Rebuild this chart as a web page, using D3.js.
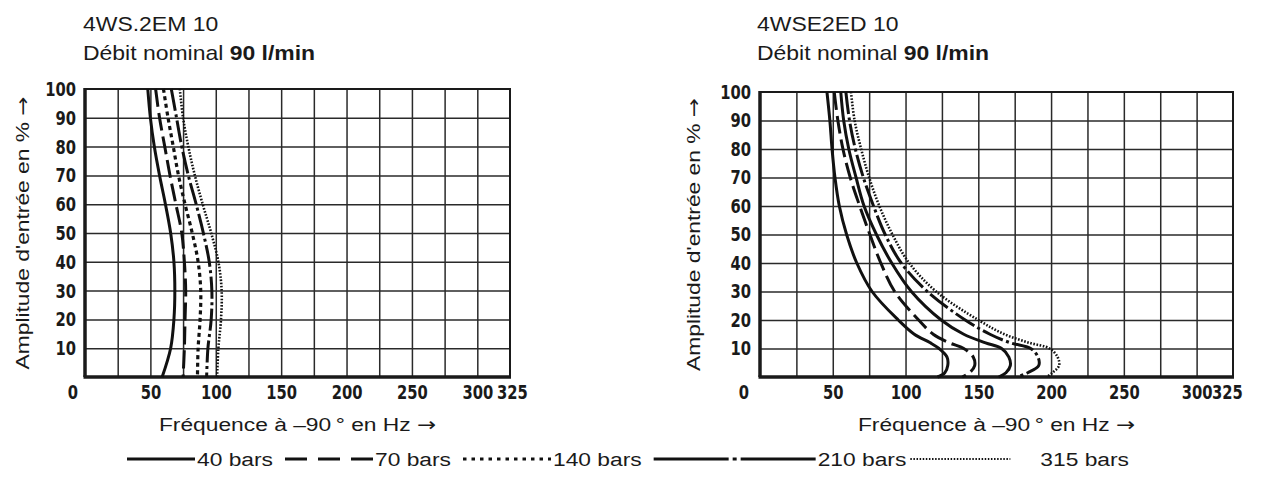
<!DOCTYPE html>
<html>
<head>
<meta charset="utf-8">
<script src="https://cdn.jsdelivr.net/npm/d3@7"></script>
<style>
  body { margin: 0; background: #fff; }
  svg { display: block; }
</style>
</head>
<body>
<script>
// ---- data ----
const seriesNames = ['40 bars', '70 bars', '140 bars', '210 bars', '315 bars']
const xTicks = [50, 100, 150, 200, 250, 300, 325]
const yTicks = [10, 20, 30, 40, 50, 60, 70, 80, 90, 100]

// left chart: 4WS.2EM 10
const ampsLeft = [100, 90, 80, 70, 60, 50, 40, 30, 20, 10, 0]
const left40 = [48, 50, 53, 57, 61.5, 65.5, 68, 68.7, 68, 65.5, 59]
const left70 = [54, 57, 61, 65, 69.5, 74, 76, 77, 76.5, 76, 75]
const left140 = [60, 63.5, 67.5, 71.5, 76.5, 82, 86.5, 88.5, 88, 86.5, 86]
const left210 = [66, 70, 74, 79, 85, 90.5, 95, 97, 96.5, 94, 93]
const left315 = [72.5, 75, 79, 84, 90, 96.5, 102, 104.5, 104, 102, 101]

// right chart: 4WSE2ED 10
const ampsRight = [100, 90, 80, 70, 60, 50, 40, 30, 20, 15, 12, 10, 7, 4, 1.5, 0]
const right40 = [46, 48, 49.5, 51.5, 54.5, 59.5, 66.5, 77, 95, 106, 117, 123, 128.5, 129, 127, 122]
const right70 = [51, 53.5, 57, 62, 68.5, 75.5, 83, 92.5, 109, 119, 130, 140, 146.5, 147.5, 144, 139]
const right140 = [55.5, 57.5, 61, 66, 71.5, 80, 90.5, 104, 124.5, 140, 155, 166, 171, 172, 169, 164]
const right210 = [59, 61.5, 65.5, 71, 78, 86, 97, 115, 141, 158, 172, 186, 191, 191.5, 184, 177]
const right315 = [62.5, 65, 69.5, 75, 82, 91, 102.5, 121, 150, 168, 185, 199, 204.5, 205.5, 201, 197]

const width = 1265
const height = 480
const INK = '#1a1a1a'
const F_REG = "'Liberation Sans', Arial, Helvetica, sans-serif"
const F_NUM = "'DejaVu Sans Condensed', 'DejaVu Sans', sans-serif"
const NUM_SX = 0.82

// line styles: solid, long dash, short dash, dash-dot, fine dots
const styles = [
  { dash: null, w: 3 },
  { dash: '18,6', w: 3 },
  { dash: '4,3.5', w: 3.2 },
  { dash: '22,3.5,3,3.5', w: 3 },
  { dash: '1.6,1.6', w: 2.6 }
]

const svg = d3.select('body')
  .append('svg')
  .attr('width', width)
  .attr('height', height)

// regular text is wider than Liberation Sans in the picture
function wideText(g, x, y, txt, opts = {}) {
  const t = g.append('text')
    .attr('transform', `translate(${x},${y})` + (opts.rotate ? ` rotate(${opts.rotate})` : '') + ` scale(${opts.sx || 1.2},1)`)
    .attr('font-family', F_REG)
    .attr('font-size', opts.size || 19)
    .attr('fill', INK)
    .attr('text-anchor', opts.anchor || 'start')
  const parts = Array.isArray(txt) ? txt : [{ t: txt }]
  parts.forEach(p => {
    const s = t.append('tspan').attr('font-weight', p.bold ? 'bold' : 'normal').text(p.t)
    if (p.arrow) s.attr('font-family', "'DejaVu Sans', sans-serif")
  })
  return t
}

function numStyle(sel) {
  sel.attr('font-family', F_NUM).attr('font-weight', 'bold').attr('font-size', 20).attr('fill', INK)
}

function drawChart(cfg) {
  const x = d3.scaleLinear().domain([0, 325]).range([cfg.left, cfg.right])
  const y = d3.scaleLinear().domain([0, 100]).range([cfg.bottom, cfg.top])
  const g = svg.append('g')

  // titles
  wideText(g, cfg.titleX, 31, cfg.title, { size: 20.5, sx: 1.12 })
  wideText(g, cfg.titleX, 60, [{ t: 'Débit nominal ' }, { t: '90 l/min', bold: true }], { size: 20.5, sx: 1.12 })

  // grid
  g.append('g')
    .attr('transform', `translate(0,${cfg.bottom})`)
    .call(d3.axisBottom(x).tickValues(d3.range(25, 325, 25)).tickSize(cfg.top - cfg.bottom).tickFormat(''))
    .call(a => a.select('.domain').remove())
    .selectAll('line').attr('stroke', '#2a2a2a').attr('stroke-width', 1.5)

  g.append('g')
    .attr('transform', `translate(${cfg.left},0)`)
    .call(d3.axisLeft(y).tickValues(d3.range(10, 100, 10)).tickSize(cfg.left - cfg.right).tickFormat(''))
    .call(a => a.select('.domain').remove())
    .selectAll('line').attr('stroke', '#2a2a2a').attr('stroke-width', 1.5)

  // frame
  g.append('rect')
    .attr('x', x(0)).attr('y', y(100))
    .attr('width', x(325) - x(0)).attr('height', y(0) - y(100))
    .attr('fill', 'none').attr('stroke', INK).attr('stroke-width', 2)
  g.append('line')
    .attr('x1', x(0)).attr('x2', x(0)).attr('y1', y(100) - 1).attr('y2', y(0))
    .attr('stroke', INK).attr('stroke-width', 3.5)
  g.append('line')
    .attr('x1', x(0) - 1.5).attr('x2', x(325) + 1).attr('y1', y(0)).attr('y2', y(0))
    .attr('stroke', INK).attr('stroke-width', 3.5)

  // tick labels (condensed bold, narrowed a little more)
  const xAx = g.append('g')
    .attr('transform', `translate(0,${cfg.bottom})`)
    .call(d3.axisBottom(x).tickValues(xTicks).tickSize(0).tickPadding(0))
  xAx.select('.domain').remove()
  xAx.selectAll('text')
    .call(numStyle)
    .attr('y', 0).attr('dy', 0)
    .attr('transform', d => `translate(${d === 325 ? cfg.lastDx : 0},22) scale(${NUM_SX},1)`)

  const yAx = g.append('g')
    .attr('transform', `translate(${cfg.left},0)`)
    .call(d3.axisLeft(y).tickValues(yTicks).tickSize(0).tickPadding(0))
  yAx.select('.domain').remove()
  yAx.selectAll('text')
    .call(numStyle)
    .attr('x', 0)
    .attr('transform', `translate(-9,0) scale(${NUM_SX},1)`)

  g.append('text')
    .attr('transform', `translate(${x(0) - cfg.zeroOff},${cfg.bottom + 22}) scale(${NUM_SX},1)`)
    .attr('text-anchor', 'middle')
    .call(numStyle)
    .text('0')

  // axis titles
  wideText(g, cfg.yTitleX, (cfg.top + cfg.bottom) / 2,
    [{ t: 'Amplitude d\'entrée en %  ' }, { t: '\u2192', arrow: true }], { rotate: -90, anchor: 'middle' })
  wideText(g, (cfg.left + cfg.right) / 2, 431,
    [{ t: 'Fréquence à \u201390\u2009° en Hz ' }, { t: '\u2192', arrow: true }], { anchor: 'middle' })

  // curves
  const line = d3.line()
    .x(d => x(d[0]))
    .y(d => y(d[1]))
    .curve(d3.curveCatmullRom.alpha(0.5))

  cfg.series.forEach((freqs, i) => {
    const st = cfg.styles[i]
    g.append('path')
      .attr('d', line(freqs.map((f, j) => [f, cfg.amps[j]])))
      .attr('fill', 'none')
      .attr('stroke', '#111')
      .attr('stroke-width', st.w)
      .attr('stroke-dasharray', st.dash)
  })
}

drawChart({
  left: 85, right: 510, top: 89, bottom: 377,
  title: '4WS.2EM 10', titleX: 83, yTitleX: 29, zeroOff: 12, lastDx: 2,
  amps: ampsLeft,
  series: [left40, left70, left140, left210, left315],
  styles: styles
})

drawChart({
  left: 760, right: 1233, top: 92, bottom: 377,
  title: '4WSE2ED 10', titleX: 757, yTitleX: 700, zeroOff: 16, lastDx: -6,
  amps: ampsRight,
  series: [right40, right70, right140, right210, right315],
  styles: [styles[0], styles[1], { dash: null, w: 3 }, styles[3], styles[4]]
})

// legend: sample line, then label, flowing left to right
const legendSamples = [
  { len: 68, dash: null, w: 3, gapAfter: 12 },
  { len: 88, dash: '22,11', w: 3, gapAfter: 12 },
  { len: 88, dash: '3.5,5', w: 3, gapAfter: 12 },
  { len: 162, dash: '75,4,4,4', w: 3, gapAfter: 4 },
  { len: 100, dash: '1.5,1.6', w: 2, gapAfter: 0 }
]
const legend = svg.append('g')
let lx = 127
const ly = 459
seriesNames.forEach((name, i) => {
  const s = legendSamples[i]
  legend.append('line')
    .attr('x1', lx).attr('x2', lx + s.len).attr('y1', ly).attr('y2', ly)
    .attr('stroke', '#111').attr('stroke-width', s.w)
    .attr('stroke-dasharray', s.dash)
  lx += s.len + (i === 4 ? 30 : 2)
  const t = wideText(legend, lx, ly + 7, name)
  lx += t.node().getBBox().width * 1.2 + s.gapAfter
})
</script>
</body>
</html>
